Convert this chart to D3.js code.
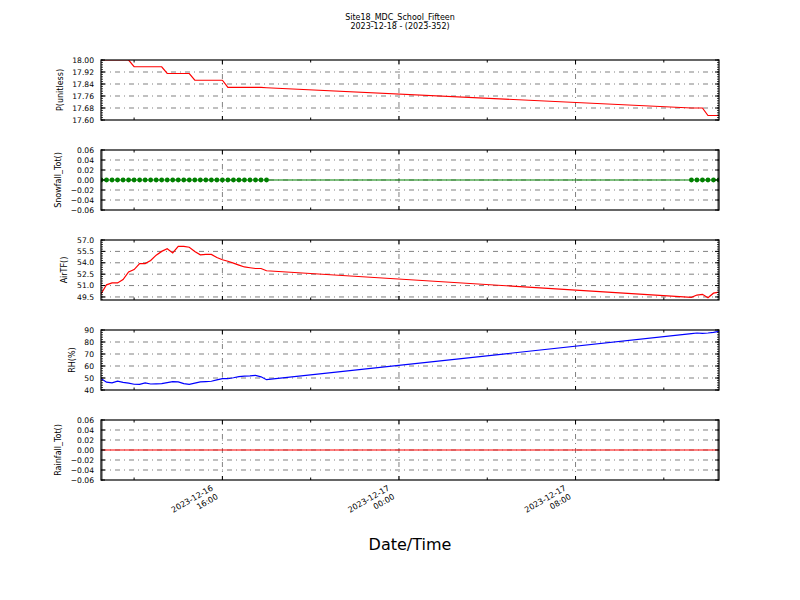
<!DOCTYPE html>
<html>
<head>
<meta charset="utf-8">
<script src="https://cdn.jsdelivr.net/npm/d3@7"></script>
<style>
  body { margin: 0; background: #fff; }
  text { font-family: "DejaVu Sans", sans-serif; fill: #000; }
</style>
</head>
<body>
<div id="chart"></div>
<script>
// station readings, 15 minute data with a gap overnight
var times = [
  "2023-12-16 10:30", "2023-12-16 10:45", "2023-12-16 11:00", "2023-12-16 11:15",
  "2023-12-16 11:30", "2023-12-16 11:45", "2023-12-16 12:00", "2023-12-16 12:15",
  "2023-12-16 12:30", "2023-12-16 12:45", "2023-12-16 13:00", "2023-12-16 13:15",
  "2023-12-16 13:30", "2023-12-16 13:45", "2023-12-16 14:00", "2023-12-16 14:15",
  "2023-12-16 14:30", "2023-12-16 14:45", "2023-12-16 15:00", "2023-12-16 15:15",
  "2023-12-16 15:30", "2023-12-16 15:45", "2023-12-16 16:00", "2023-12-16 16:15",
  "2023-12-16 16:30", "2023-12-16 16:45", "2023-12-16 17:00", "2023-12-16 17:15",
  "2023-12-16 17:30", "2023-12-16 17:45", "2023-12-16 18:00",
  "2023-12-17 13:15", "2023-12-17 13:30", "2023-12-17 13:45", "2023-12-17 14:00",
  "2023-12-17 14:15", "2023-12-17 14:30"
];
var pressure = [
  18.00, 18.00, 18.00, 18.00, 18.00, 18.00, 17.955, 17.955, 17.955, 17.955, 17.955, 17.955,
  17.91, 17.91, 17.91, 17.91, 17.91, 17.865, 17.865, 17.865, 17.865, 17.865, 17.865,
  17.817, 17.817, 17.817, 17.817, 17.817, 17.817, 17.817, 17.815,
  17.68, 17.68, 17.68, 17.63, 17.63, 17.63
];
var snowfall = [
  0, 0, 0, 0, 0, 0, 0, 0, 0, 0, 0, 0, 0, 0, 0, 0, 0, 0, 0, 0, 0, 0, 0, 0, 0, 0, 0, 0, 0, 0, 0,
  0, 0, 0, 0, 0, 0
];
var airTF = [
  49.9, 51.1, 51.35, 51.35, 51.8, 52.8, 53.1, 53.9, 53.9, 54.3, 55.0, 55.5,
  55.85, 55.3, 56.15, 56.15, 56.05, 55.5, 55.05, 55.1, 55.1, 54.7, 54.4,
  54.2, 53.95, 53.7, 53.45, 53.35, 53.25, 53.25, 52.95,
  49.45, 49.75, 49.85, 49.4, 50.0, 50.15
];
var rh = [
  49.5, 46.5, 46.0, 47.3, 46.3, 45.8, 44.8, 44.7, 46.0, 45.0, 45.1, 45.3,
  46.2, 47.0, 46.8, 45.3, 44.7, 45.7, 46.7, 47.0, 47.3, 48.5, 49.4,
  49.4, 50.2, 51.2, 51.6, 51.8, 52.2, 51.0, 48.6,
  87.0, 87.5, 87.2, 87.5, 88.0, 88.8
];
var rainfall = [
  0, 0, 0, 0, 0, 0, 0, 0, 0, 0, 0, 0, 0, 0, 0, 0, 0, 0, 0, 0, 0, 0, 0, 0, 0, 0, 0, 0, 0, 0, 0,
  0, 0, 0, 0, 0, 0
];
var xTickTimes = ["2023-12-16 16:00", "2023-12-17 00:00", "2023-12-17 08:00"];
var xTickLabels = [["2023-12-16", "16:00"], ["2023-12-17", "00:00"], ["2023-12-17", "08:00"]];
var xMinorTimes = ["2023-12-16 12:00", "2023-12-16 20:00", "2023-12-17 04:00", "2023-12-17 12:00"];
var xRange = ["2023-12-16 10:30", "2023-12-17 14:30"];

var panels = [
  { label: "P(unitless)", values: pressure, color: "red", domain: [17.60, 18.00],
    ticks: [17.60, 17.68, 17.76, 17.84, 17.92, 18.00], fmt: ".2f", markers: false },
  { label: "Snowfall_Tot()", values: snowfall, color: "green", domain: [-0.06, 0.06],
    ticks: [-0.06, -0.04, -0.02, 0.00, 0.02, 0.04, 0.06], fmt: ".2f", markers: true },
  { label: "AirTF()", values: airTF, color: "red", domain: [49.1, 57.0],
    ticks: [49.5, 51.0, 52.5, 54.0, 55.5, 57.0], fmt: ".1f", markers: false },
  { label: "RH(%)", values: rh, color: "blue", domain: [40, 90],
    ticks: [40, 50, 60, 70, 80, 90], fmt: "d", markers: false },
  { label: "Rainfall_Tot()", values: rainfall, color: "red", domain: [-0.06, 0.06],
    ticks: [-0.06, -0.04, -0.02, 0.00, 0.02, 0.04, 0.06], fmt: ".2f", markers: false }
];

var width = 800, height = 600;
var left = 101, right = 719;
var panelTop = [60, 150, 240, 330, 420];
var panelH = 60;
var parse = d3.timeParse("%Y-%m-%d %H:%M");
var dates = times.map(parse);

var svg = d3.select("#chart").append("svg")
  .attr("width", width)
  .attr("height", height);

var x = d3.scaleTime()
  .domain(xRange.map(parse))
  .range([left, right]);

// title
svg.append("text").attr("x", 400).attr("y", 20).attr("text-anchor", "middle")
  .attr("font-size", "8px").text("Site18_MDC_School_Fifteen");
svg.append("text").attr("x", 400).attr("y", 28.5).attr("text-anchor", "middle")
  .attr("font-size", "8px").text("2023-12-18 - (2023-352)");

var gridDash = "5,4,1,4";

panels.forEach(function(p, i) {
  var top = panelTop[i];
  var y = d3.scaleLinear().domain(p.domain).range([top + panelH, top]);
  var g = svg.append("g");

  g.append("clipPath").attr("id", "clip" + i)
    .append("rect").attr("x", left).attr("y", top).attr("width", right - left).attr("height", panelH);

  // horizontal grid
  p.ticks.forEach(function(t) {
    var yy = y(t);
    if (Math.abs(yy - top) < 0.5 || Math.abs(yy - top - panelH) < 0.5) return;
    g.append("line")
      .attr("x1", left).attr("x2", right).attr("y1", yy).attr("y2", yy)
      .attr("stroke", "#000").attr("stroke-width", 0.5).attr("stroke-dasharray", gridDash);
  });
  // vertical grid
  xTickTimes.forEach(function(t) {
    var xx = x(parse(t));
    g.append("line")
      .attr("x1", xx).attr("x2", xx).attr("y1", top).attr("y2", top + panelH)
      .attr("stroke", "#000").attr("stroke-width", 0.5).attr("stroke-dasharray", gridDash);
  });

  // data line
  var line = d3.line()
    .x(function(d, j) { return x(dates[j]); })
    .y(function(d) { return y(d); });
  var plot = g.append("g").attr("clip-path", "url(#clip" + i + ")");
  plot.append("path")
    .datum(p.values)
    .attr("d", line)
    .attr("fill", "none")
    .attr("stroke", p.color)
    .attr("stroke-width", 1.2);
  if (p.markers) {
    plot.selectAll("circle")
      .data(p.values)
      .enter().append("circle")
      .attr("cx", function(d, j) { return x(dates[j]); })
      .attr("cy", function(d) { return y(d); })
      .attr("r", 2.4)
      .attr("fill", p.color);
  }

  // y ticks (major + dense minor), inward on both sides
  var step = (p.ticks[1] - p.ticks[0]) / 5;
  var minor = d3.range(p.ticks[0] - step * 5, p.domain[1] + step / 2, step)
    .filter(function(v) { return v >= p.domain[0] - 1e-9 && v <= p.domain[1] + 1e-9; });
  minor.forEach(function(v) {
    var yy = y(v);
    g.append("line").attr("x1", left).attr("x2", left + 2).attr("y1", yy).attr("y2", yy)
      .attr("stroke", "#000").attr("stroke-width", 0.8);
    g.append("line").attr("x1", right).attr("x2", right - 2).attr("y1", yy).attr("y2", yy)
      .attr("stroke", "#000").attr("stroke-width", 0.8);
  });
  var fmt = d3.format(p.fmt);
  var labels = g.append("g");
  p.ticks.forEach(function(t) {
    var yy = y(t);
    g.append("line").attr("x1", left).attr("x2", left + 4).attr("y1", yy).attr("y2", yy)
      .attr("stroke", "#000").attr("stroke-width", 1);
    g.append("line").attr("x1", right).attr("x2", right - 4).attr("y1", yy).attr("y2", yy)
      .attr("stroke", "#000").attr("stroke-width", 1);
    labels.append("text")
      .attr("x", 94).attr("y", yy).attr("dy", "0.35em")
      .attr("text-anchor", "end").attr("font-size", "7.6px")
      .text(fmt(t).replace("-", "\u2212"));
  });

  // x ticks top and bottom
  xTickTimes.forEach(function(t) {
    var xx = x(parse(t));
    g.append("line").attr("x1", xx).attr("x2", xx).attr("y1", top).attr("y2", top + 4)
      .attr("stroke", "#000").attr("stroke-width", 1);
    g.append("line").attr("x1", xx).attr("x2", xx).attr("y1", top + panelH).attr("y2", top + panelH - 4)
      .attr("stroke", "#000").attr("stroke-width", 1);
  });
  xMinorTimes.forEach(function(t) {
    var xx = x(parse(t));
    g.append("line").attr("x1", xx).attr("x2", xx).attr("y1", top).attr("y2", top + 2.5)
      .attr("stroke", "#000").attr("stroke-width", 1);
    g.append("line").attr("x1", xx).attr("x2", xx).attr("y1", top + panelH).attr("y2", top + panelH - 2.5)
      .attr("stroke", "#000").attr("stroke-width", 1);
  });

  // frame
  g.append("rect")
    .attr("x", left).attr("y", top).attr("width", right - left).attr("height", panelH)
    .attr("fill", "none").attr("stroke", "#000").attr("stroke-width", 1.2);

  // y label, placed left of the widest tick label
  var lb = labels.node().getBBox();
  var cx = lb.x - 12.5;
  g.append("text")
    .attr("transform", "translate(" + cx + "," + (top + panelH / 2) + ") rotate(-90)")
    .attr("text-anchor", "middle").attr("dy", "0.35em")
    .attr("font-size", "8px")
    .text(p.label);
});

// rotated date labels under the last panel
xTickTimes.forEach(function(t, i) {
  var xx = x(parse(t));
  var lg = svg.append("g")
    .attr("transform", "translate(" + (xx - 12) + ",484) rotate(-30)");
  lg.append("text").attr("x", 0).attr("y", 6.5).attr("text-anchor", "end")
    .attr("font-size", "8px").text(xTickLabels[i][0]);
  lg.append("text").attr("x", 0).attr("y", 16.5).attr("text-anchor", "end")
    .attr("font-size", "8px").text(xTickLabels[i][1]);
});

svg.append("text")
  .attr("x", (left + right) / 2).attr("y", 550)
  .attr("text-anchor", "middle").attr("font-size", "16px")
  .text("Date/Time");
</script>
</body>
</html>
